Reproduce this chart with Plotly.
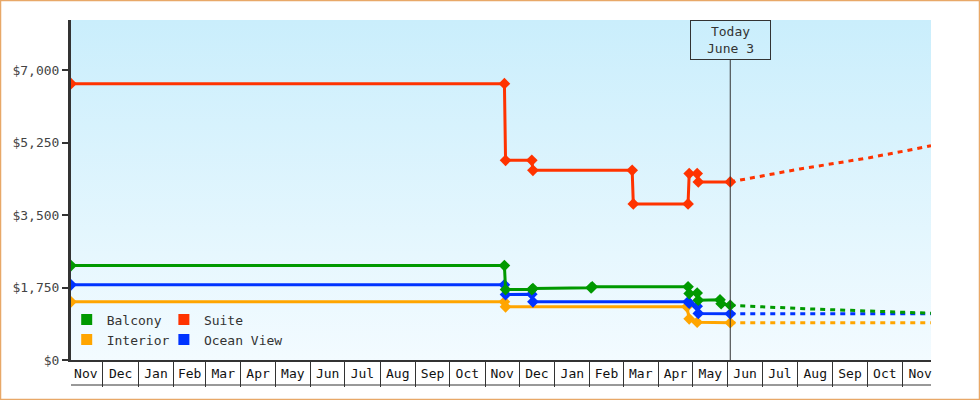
import base64
import plotly.graph_objects as go

# price history (solid, with markers) and forecast (dotted) per cabin type
balcony_dates = ["2022-11-03", "2023-11-18", "2023-11-19", "2023-12-12", "2023-12-13",
                 "2024-02-02", "2024-02-03", "2024-04-27", "2024-04-28", "2024-05-05",
                 "2024-05-06", "2024-05-25", "2024-05-26", "2024-06-03"]
balcony_prices = [2283, 2283, 1703, 1703, 1727, 1744, 1771, 1771, 1607, 1620,
                  1446, 1455, 1360, 1324]

suite_dates = ["2022-11-03", "2023-11-18", "2023-11-19", "2023-12-12", "2023-12-13",
               "2024-03-09", "2024-03-10", "2024-04-27", "2024-04-28", "2024-05-05",
               "2024-05-06", "2024-06-03"]
suite_prices = [6680, 6680, 4827, 4827, 4586, 4586, 3774, 3774, 4506, 4506, 4305, 4305]

interior_dates = ["2022-11-03", "2023-11-18", "2023-11-19", "2024-04-26", "2024-04-28",
                  "2024-05-05", "2024-06-03"]
interior_prices = [1406, 1406, 1285, 1285, 995, 913, 900]

ocean_dates = ["2022-11-03", "2023-11-18", "2023-11-19", "2023-12-12", "2023-12-13",
               "2024-04-27", "2024-04-28", "2024-05-05", "2024-05-06", "2024-06-03"]
ocean_prices = [1817, 1817, 1582, 1590, 1406, 1406, 1377, 1300, 1125, 1116]

fc_dates = ["2024-06-03", "2024-07-03", "2024-08-03", "2024-09-03", "2024-10-03",
            "2024-11-03", "2024-11-26"]
balcony_fc = [1324, 1280, 1244, 1213, 1184, 1148, 1131]
suite_fc = [4305, 4458, 4619, 4755, 4892, 5054, 5182]
interior_fc = [900, 900, 900, 900, 900, 900, 900]
ocean_fc = [1116, 1116, 1116, 1116, 1116, 1116, 1116]

y_ticks = [0, 1750, 3500, 5250, 7000]
TODAY = "2024-06-03"
X_START, X_END = "2022-11-03", "2024-11-26"

FONT = "DejaVu Sans Mono"
GREEN, RED, ORANGE, BLUE = "#009900", "#ff3300", "#ffa500", "#0033ff"

series = [
    ("Interior", interior_dates, interior_prices, interior_fc, ORANGE),
    ("Ocean View", ocean_dates, ocean_prices, ocean_fc, BLUE),
    ("Balcony", balcony_dates, balcony_prices, balcony_fc, GREEN),
    ("Suite", suite_dates, suite_prices, suite_fc, RED),
]

fig = go.Figure()
for name, d, p, fc, col in series:
    fig.add_trace(go.Scatter(x=fc_dates, y=fc, mode="lines", showlegend=False,
                             line=dict(color=col, width=3, dash="5px,5px")))
    fig.add_trace(go.Scatter(x=d, y=p, mode="lines+markers", showlegend=False,
                             line=dict(color=col, width=3),
                             marker=dict(symbol="diamond", size=9, color=col)))

# legend: square swatches, two columns
for name, col, lg, rank in [("Balcony", GREEN, "legend", 1), ("Interior", ORANGE, "legend", 2),
                            ("Suite", RED, "legend2", 1), ("Ocean View", BLUE, "legend2", 2)]:
    fig.add_trace(go.Scatter(x=[None], y=[None], mode="markers", name=name, legend=lg,
                             legendrank=rank,
                             marker=dict(symbol="square", size=11, color=col)))

svg = ('<svg xmlns="http://www.w3.org/2000/svg" width="10" height="100" viewBox="0 0 10 100" '
       'preserveAspectRatio="none"><defs><linearGradient id="g" x1="0" y1="0" x2="0" y2="1">'
       '<stop offset="0" stop-color="#caeefc"/><stop offset="1" stop-color="#f3fbff"/>'
       '</linearGradient></defs><rect width="10" height="100" fill="url(#g)"/></svg>')
bg = "data:image/svg+xml;base64," + base64.b64encode(svg.encode()).decode()

leg = dict(font=dict(family=FONT, size=13, color="#333"), bgcolor="rgba(0,0,0,0)",
           xanchor="left", yanchor="top", tracegroupgap=0, itemwidth=30)

fig.update_layout(
    width=980, height=400,
    margin=dict(l=71, r=49, t=20, b=40),
    paper_bgcolor="white", plot_bgcolor="rgba(0,0,0,0)",
    font=dict(family=FONT, size=13, color="#333"),
    images=[dict(source=bg, xref="paper", yref="paper", x=0, y=1, sizex=1, sizey=1,
                 sizing="stretch", layer="below")],
    legend=dict(x=-0.005, y=0.163, **leg),
    legend2=dict(x=0.108, y=0.163, **leg),
    xaxis=dict(type="date", range=[X_START, X_END], dtick="M1", tick0="2022-11-01",
               tickformat="%b", ticklabelmode="period", ticks="outside", ticklen=25,
               tickwidth=1, tickcolor="#333", showline=True, linecolor="#333", linewidth=2,
               showgrid=False, zeroline=False, ticklabelstandoff=-25,
               tickfont=dict(family=FONT, size=13, color="#111")),
    yaxis=dict(range=[0, 8220], tickvals=y_ticks, tickformat="$,d",
               ticks="outside", ticklen=6, tickwidth=2, tickcolor="#333",
               showline=True, linecolor="#333", linewidth=3, showgrid=False, zeroline=False,
               tickfont=dict(family=FONT, size=13, color="#444")),
    showlegend=True,
)

# bottom edge of the month boxes
fig.add_shape(type="line", xref="paper", yref="paper", x0=0, x1=1, y0=-25 / 340, y1=-25 / 340,
              line=dict(color="#333", width=1))
# today marker line + label box
fig.add_shape(type="line", xref="x", yref="paper", x0=TODAY, x1=TODAY, y0=0, y1=300 / 340,
              line=dict(color="#333", width=1))
fig.add_annotation(x=TODAY, xref="x", y=1, yref="paper", xanchor="center", yanchor="top",
                   text="Today<br>June 3", showarrow=False, width=79, height=38,
                   bordercolor="#333", borderwidth=1, borderpad=0,
                   font=dict(family=FONT, size=13, color="#333"))
# outer orange frame
fig.add_shape(type="rect", xref="paper", yref="paper", x0=-70.5 / 860, x1=908.5 / 860,
              y0=-39.5 / 340, y1=359.5 / 340, line=dict(color="#e8a868", width=1.5))

fig.write_html("out.html", config={"displayModeBar": False},
               post_script="document.body.style.margin='0';")
